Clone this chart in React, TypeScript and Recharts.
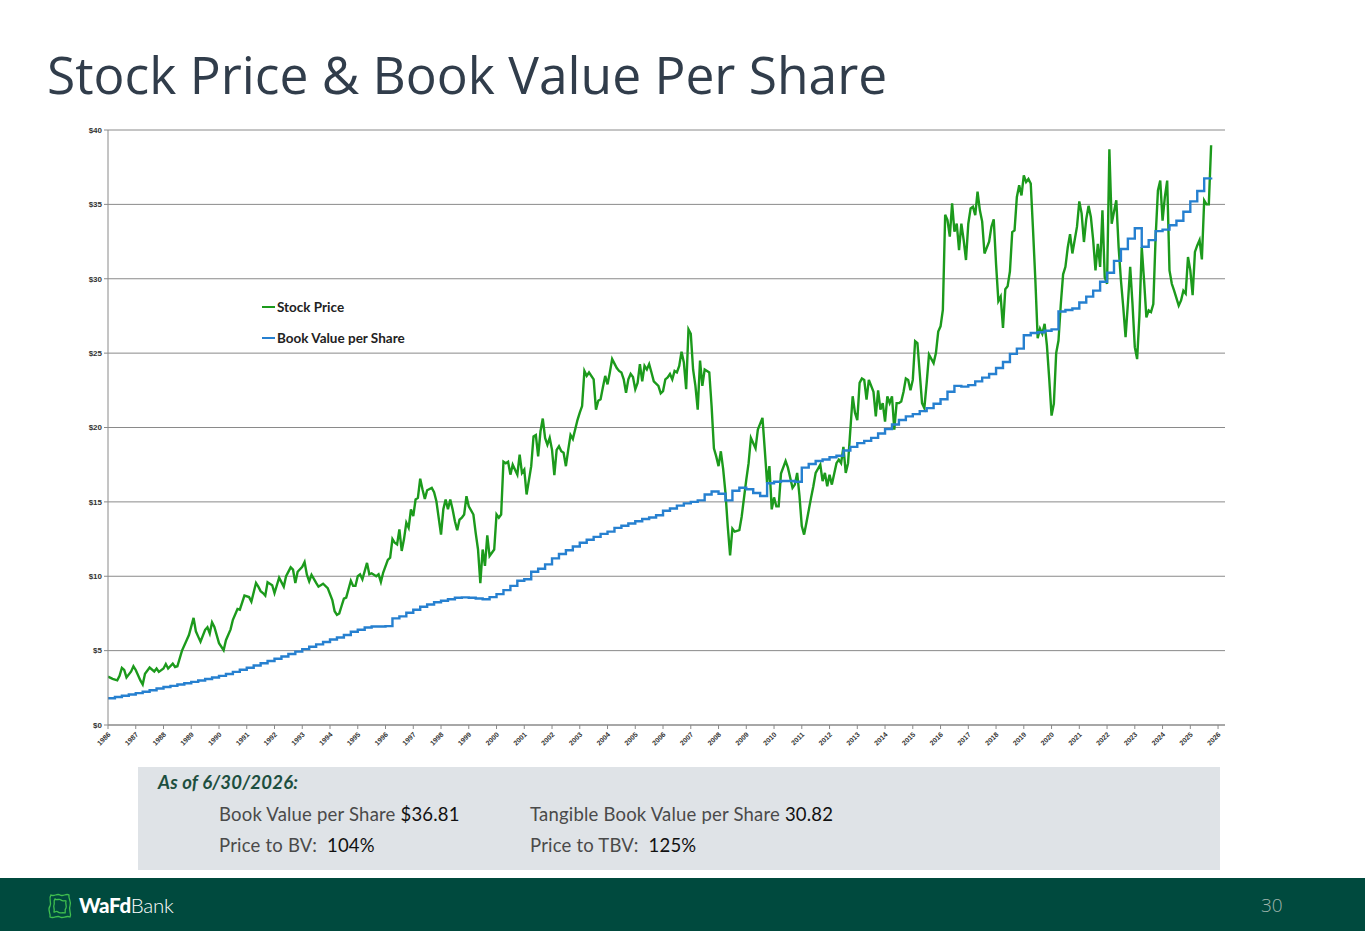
import React from 'react';
import { LineChart, Line, XAxis, YAxis, CartesianGrid } from 'recharts';

// Month index (0 = start of 1986) and month-end stock price
const stockMonth = [
  0, 2, 4, 5, 6, 7, 8, 10, 11, 12, 14, 15, 16, 18, 20, 21, 22, 24, 25, 26, 28, 29, 30, 32, 34, 35, 37, 38, 39, 40,
  42, 43, 44, 45, 46, 48, 50, 51, 53, 54, 56, 57, 59, 61, 62, 64, 65, 66, 67, 68, 69, 71, 72, 74, 76, 77, 79, 80, 81, 82,
  84, 85, 86, 87, 88, 90, 91, 93, 95, 97, 98, 99, 100, 101, 102, 103, 105, 106, 107, 108, 109, 110, 112, 113, 114, 116, 117, 118, 119, 121,
  122, 123, 124, 125, 126, 127, 128, 129, 130, 131, 132, 133, 134, 135, 136, 137, 138, 140, 141, 142, 144, 145, 146, 147, 148, 149, 150, 151, 152, 153,
  154, 155, 156, 158, 159, 160, 161, 162, 163, 164, 165, 167, 168, 169, 170, 171, 172, 173, 174, 175, 177, 178, 179, 180, 181, 183, 184, 185, 186, 187,
  188, 189, 190, 191, 192, 193, 194, 195, 196, 197, 198, 199, 200, 201, 203, 204, 205, 206, 207, 208, 210, 211, 212, 213, 214, 215, 216, 217, 218, 220,
  221, 222, 223, 224, 225, 226, 227, 228, 229, 230, 231, 232, 233, 234, 235, 236, 238, 239, 240, 241, 242, 243, 244, 245, 246, 247, 248, 249, 250, 251,
  252, 253, 254, 255, 256, 257, 258, 260, 261, 262, 263, 264, 265, 266, 267, 268, 269, 270, 271, 273, 274, 276, 277, 278, 280, 281, 283, 284, 285, 286,
  287, 288, 289, 290, 291, 293, 294, 296, 297, 298, 299, 300, 301, 302, 304, 305, 306, 308, 309, 310, 311, 312, 313, 315, 316, 317, 318, 319, 320, 321,
  322, 323, 324, 325, 326, 327, 328, 329, 331, 332, 333, 334, 335, 336, 337, 338, 339, 340, 341, 342, 343, 344, 345, 346, 347, 348, 349, 350, 351, 352,
  353, 354, 355, 357, 358, 359, 360, 361, 362, 363, 364, 365, 366, 367, 368, 369, 370, 371, 372, 373, 374, 375, 376, 377, 378, 379, 381, 382, 383, 384,
  385, 386, 387, 388, 389, 390, 391, 392, 393, 394, 395, 396, 397, 398, 399, 400, 401, 402, 403, 404, 405, 406, 407, 408, 409, 410, 411, 412, 413, 414,
  415, 416, 417, 418, 419, 420, 421, 422, 423, 424, 425, 426, 427, 428, 429, 430, 431, 432, 433, 434, 435, 436, 437, 438, 439, 440, 441, 442, 443, 444,
  445, 446, 447, 448, 449, 450, 451, 452, 453, 454, 455, 456, 457, 458, 459, 460, 461, 463, 464, 465, 466, 467, 468, 469, 470, 471, 472, 473, 474, 475,
  476, 477,
];

const stockPrice = [
  3.25, 3.1, 3.0, 3.3, 3.84, 3.7, 3.2, 3.6, 3.95, 3.7, 3.0, 2.73, 3.45, 3.86, 3.6, 3.8, 3.57, 3.8, 4.1, 3.8, 4.13, 3.9, 3.95, 5.0, 5.7, 6.05, 7.2, 6.3, 5.94, 5.6,
  6.4, 6.57, 6.16, 6.9, 6.6, 5.5, 5.03, 5.7, 6.43, 7.07, 7.8, 7.75, 8.7, 8.6, 8.3, 9.55, 9.3, 9.0, 8.87, 8.7, 9.6, 9.4, 8.87, 9.9, 9.3, 10.0, 10.6, 10.45, 9.55, 10.3,
  10.63, 10.95, 10.1, 9.66, 10.1, 9.55, 9.3, 9.5, 9.2, 8.4, 7.65, 7.4, 7.5, 8.0, 8.5, 8.57, 9.7, 9.35, 9.35, 10.0, 10.13, 9.8, 10.9, 10.13, 10.2, 10.0, 10.13, 9.62, 10.25, 11.1,
  11.25, 12.5, 12.25, 12.14, 13.15, 11.7, 12.5, 13.6, 13.26, 14.5, 14.04, 15.16, 15.27, 16.56, 15.83, 15.2, 15.78, 15.94, 15.65, 15.04, 12.8, 14.5, 15.16, 14.5, 15.16, 14.5, 13.7, 13.1, 13.8, 13.93,
  14.15, 15.38, 14.7, 14.15, 12.9, 11.8, 9.53, 11.8, 10.7, 12.75, 11.36, 11.8, 14.15, 13.93, 14.15, 17.7, 17.6, 17.7, 16.83, 17.5, 16.83, 18.17, 16.94, 17.17, 15.5, 17.4, 19.4, 19.5, 18.06, 19.73,
  20.6, 19.3, 18.84, 19.3, 18.5, 16.8, 18.5, 18.74, 18.4, 18.3, 17.4, 18.5, 19.5, 19.23, 20.5, 21.0, 21.44, 23.8, 23.47, 23.7, 23.24, 21.2, 21.8, 21.9, 22.7, 23.47, 22.9, 23.7, 24.6, 24.0,
  23.8, 23.7, 23.24, 22.34, 23.24, 23.6, 23.4, 22.57, 23.0, 24.26, 23.1, 24.14, 23.9, 24.26, 23.7, 23.1, 22.8, 22.3, 22.45, 23.24, 23.36, 23.6, 23.24, 23.8, 23.7, 24.14, 25.1, 24.37, 22.57, 26.6,
  26.3, 23.9, 22.8, 21.2, 24.5, 22.8, 23.9, 23.7, 21.44, 18.6, 18.06, 17.4, 18.4, 17.2, 15.6, 13.33, 11.4, 13.2, 13.0, 13.1, 14.0, 16.5, 17.6, 19.3, 18.6, 19.86, 20.65, 18.5, 16.26, 17.4,
  14.5, 15.3, 14.7, 14.7, 16.9, 17.75, 17.3, 15.94, 16.16, 16.95, 15.4, 13.37, 12.8, 13.6, 15.27, 16.05, 16.95, 17.5, 16.4, 16.95, 16.05, 16.83, 16.16, 17.6, 17.84, 17.6, 18.7, 16.95, 17.6, 19.85,
  22.1, 21.0, 20.5, 23.0, 23.3, 23.2, 21.87, 23.2, 22.4, 20.75, 22.5, 21.2, 21.64, 20.4, 22.1, 21.64, 22.1, 19.85, 21.64, 21.64, 21.75, 22.4, 23.3, 23.2, 22.5, 23.2, 25.8, 25.67, 23.66, 21.64,
  21.3, 23.0, 24.9, 24.33, 25.0, 26.45, 26.8, 27.9, 34.3, 33.95, 32.83, 35.07, 33.17, 33.7, 31.93, 33.7, 32.6, 31.26, 33.7, 34.73, 34.84, 34.28, 35.85, 34.6, 33.84, 31.7, 32.5, 33.5, 34.0, 31.0,
  28.5, 28.8, 26.7, 29.3, 29.5, 30.5, 33.14, 33.25, 35.5, 36.28, 35.6, 36.95, 36.5, 36.7, 36.4, 33.25, 29.9, 26.0, 26.64, 26.3, 26.97, 25.5, 23.27, 20.8, 21.6, 25.0, 25.85, 28.3, 30.3, 30.8,
  32.1, 33.0, 31.7, 32.6, 33.5, 35.2, 34.4, 32.47, 34.0, 34.9, 34.15, 32.6, 30.56, 32.35, 30.8, 34.6, 30.1, 29.66, 38.7, 33.7, 34.5, 35.27, 32.13, 29.9, 28.1, 26.08, 28.3, 30.8, 28.3, 25.4,
  24.6, 27.5, 32.13, 29.9, 27.4, 27.87, 27.76, 28.3, 32.8, 35.94, 36.6, 33.9, 35.5, 36.6, 30.56, 29.66, 29.2, 28.2, 28.54, 29.2, 29.0, 31.46, 30.56, 28.9, 31.8, 32.24, 32.6, 31.3, 35.27, 35.0,
  35.0, 38.97,
];

// Quarter-end book value per share, one value every 3 months from the start of 1986
const bookValue = [
  1.8, 1.88, 1.97, 2.05, 2.14, 2.24, 2.34, 2.45, 2.55, 2.63, 2.72, 2.81, 2.9, 2.99, 3.09, 3.19, 3.3, 3.43, 3.57, 3.71,
  3.85, 4.0, 4.15, 4.3, 4.45, 4.61, 4.77, 4.93, 5.1, 5.26, 5.42, 5.58, 5.75, 5.88, 6.05, 6.27, 6.4, 6.55, 6.62, 6.62,
  6.65, 7.17, 7.3, 7.55, 7.75, 7.95, 8.1, 8.25, 8.35, 8.45, 8.55, 8.58, 8.55, 8.5, 8.45, 8.6, 8.8, 9.07, 9.35, 9.7,
  9.8, 10.3, 10.5, 10.8, 11.2, 11.5, 11.75, 12.0, 12.25, 12.45, 12.65, 12.85, 13.0, 13.25, 13.4, 13.55, 13.7, 13.85, 13.95, 14.1,
  14.4, 14.55, 14.75, 14.9, 15.0, 15.1, 15.5, 15.7, 15.55, 15.1, 15.75, 15.95, 15.85, 15.6, 15.4, 16.25, 16.35, 16.4, 16.4, 16.35,
  17.3, 17.55, 17.75, 17.85, 18.0, 18.1, 18.45, 18.7, 18.95, 19.1, 19.3, 19.6, 19.9, 20.2, 20.5, 20.75, 20.9, 21.1, 21.3, 21.6,
  21.9, 22.4, 22.8, 22.75, 22.85, 23.1, 23.35, 23.6, 24.0, 24.4, 24.95, 25.3, 26.2, 26.35, 26.4, 26.5, 26.6, 27.8, 27.9, 28.0,
  28.4, 28.8, 29.2, 29.8, 30.4, 31.2, 32.0, 32.7, 33.4, 32.15, 32.6, 33.2, 33.3, 33.6, 33.9, 34.5, 35.2, 35.9, 36.75, 36.81,
];

const yearLabels = [
  '1986', '1987', '1988', '1989', '1990', '1991', '1992', '1993', '1994', '1995', '1996', '1997', '1998', '1999',
  '2000', '2001', '2002', '2003', '2004', '2005', '2006', '2007', '2008', '2009', '2010', '2011', '2012', '2013',
  '2014', '2015', '2016', '2017', '2018', '2019', '2020', '2021', '2022', '2023', '2024', '2025', '2026',
];

const priceTicks = [0, 5, 10, 15, 20, 25, 30, 35, 40];

const seriesNames = ['Stock Price', 'Book Value per Share'];
const seriesColors = ['#1c9a1c', '#2680d0'];

const stockData = stockMonth.map((m, i) => ({ m, price: stockPrice[i] }));
const bookData = bookValue.map((v, i) => ({ m: i * 3, book: v }));
const yearTicks = yearLabels.map((_, i) => i * 12);

const YearTick = (props: any) => {
  const { x, y, payload } = props;
  const label = yearLabels[Math.round(payload.value / 12)];
  const ax = x + 3;
  const ay = y + 4;
  return (
    <text
      x={ax}
      y={ay}
      transform={`rotate(-45 ${ax} ${ay})`}
      textAnchor="end"
      fontSize={7}
      fontWeight="bold"
      fill="#333"
      fontFamily="'Liberation Sans', Arial, sans-serif"
    >
      {label}
    </text>
  );
};

const ChartLegend = () => (
  <div
    style={{
      position: 'absolute',
      left: 262,
      top: 299,
      fontFamily: 'Lato, sans-serif',
      fontWeight: 700,
      fontSize: 13.5,
      color: '#222',
    }}
  >
    {seriesNames.map((name, i) => (
      <div key={name} style={{ display: 'flex', alignItems: 'center', height: 16, marginBottom: i === 0 ? 15 : 0 }}>
        <span style={{ display: 'inline-block', width: 13, height: 2.5, background: seriesColors[i], marginRight: 2 }} />
        <span style={{ whiteSpace: 'nowrap' }}>{name}</span>
      </div>
    ))}
  </div>
);

const Logo = () => (
  <svg width="30" height="30" viewBox="0 0 30 30" style={{ position: 'absolute', left: 45, top: 891 }}>
    <g fill="none" stroke="#3fbf4f" strokeWidth="1.3">
      <path d="M6 4 C9 6, 12 2, 15 4 C18 6, 21 2, 24 4 C23 8, 27 11, 25 15 C23 19, 27 22, 25 26 C21 24, 18 28, 15 26 C12 24, 9 28, 5 26 C6 22, 2 19, 5 15 C7 11, 3 8, 6 4 Z" />
      <path d="M10 8 C12 10, 14 7, 16 9 C18 11, 20 9, 21 10 C20 13, 22 15, 21 17 C19 19, 21 21, 20 22 C17 21, 15 23, 13 21 C11 19, 10 22, 9 21 C10 18, 8 16, 9 14 C10 12, 8 10, 10 8 Z" />
    </g>
  </svg>
);

export default function App() {
  const labelStyle: React.CSSProperties = { color: '#4a4a4a' };
  const valueStyle: React.CSSProperties = { color: '#111' };
  return (
    <div
      style={{
        position: 'absolute',
        left: 0,
        top: 0,
        width: 1365,
        height: 931,
        background: '#ffffff',
        overflow: 'hidden',
        fontFamily: "'Open Sans', sans-serif",
      }}
    >
      <div
        style={{
          position: 'absolute',
          left: 47,
          top: 38,
          fontSize: 51.5,
          color: '#313d4b',
          fontFamily: "'Open Sans', sans-serif",
          lineHeight: '72px',
          whiteSpace: 'nowrap',
        }}
      >
        Stock Price &amp; Book Value Per Share
      </div>

      <div style={{ position: 'absolute', left: 40, top: 110 }}>
        <LineChart
          width={1200}
          height={650}
          margin={{ top: 20, right: 15, bottom: 0, left: 0 }}
          style={{ fontFamily: "'Liberation Sans', Arial, sans-serif" }}
        >
          <CartesianGrid vertical={false} stroke="#8a8a8a" strokeWidth={1} />
          <XAxis
            type="number"
            dataKey="m"
            domain={[0, 483]}
            ticks={yearTicks}
            interval={0}
            tick={<YearTick />}
            tickSize={4}
            height={35}
            stroke="#8a8a8a"
            allowDataOverflow
          />
          <YAxis
            type="number"
            domain={[0, 40]}
            ticks={priceTicks}
            interval={0}
            tickFormatter={(v: number) => `$${v}`}
            width={68}
            tickSize={4}
            stroke="#8a8a8a"
            tick={{ fontSize: 8, fontWeight: 'bold', fill: '#333' }}
          />
          <Line
            data={stockData}
            dataKey="price"
            name={seriesNames[0]}
            type="linear"
            stroke={seriesColors[0]}
            strokeWidth={2.4}
            dot={false}
            isAnimationActive={false}
          />
          <Line
            data={bookData}
            dataKey="book"
            name={seriesNames[1]}
            type="stepAfter"
            stroke={seriesColors[1]}
            strokeWidth={2.4}
            dot={false}
            isAnimationActive={false}
          />
        </LineChart>
      </div>

      <ChartLegend />

      <div
        style={{
          position: 'absolute',
          left: 138,
          top: 767,
          width: 1082,
          height: 103,
          background: '#dfe3e7',
          fontFamily: 'Lato, sans-serif',
          fontSize: 18.5,
          letterSpacing: 0.2,
        }}
      >
        <div
          style={{
            position: 'absolute',
            left: 20,
            top: 4,
            fontWeight: 700,
            fontStyle: 'italic',
            color: '#1d4f3f',
          }}
        >
          As of 6/30/2026:
        </div>
        <div style={{ position: 'absolute', left: 81, top: 36, whiteSpace: 'nowrap' }}>
          <span style={labelStyle}>Book Value per Share </span>
          <span style={valueStyle}>$36.81</span>
        </div>
        <div style={{ position: 'absolute', left: 392, top: 36, whiteSpace: 'nowrap' }}>
          <span style={labelStyle}>Tangible Book Value per Share </span>
          <span style={valueStyle}>30.82</span>
        </div>
        <div style={{ position: 'absolute', left: 81, top: 67, whiteSpace: 'pre' }}>
          <span style={labelStyle}>Price to BV:  </span>
          <span style={valueStyle}>104%</span>
        </div>
        <div style={{ position: 'absolute', left: 392, top: 67, whiteSpace: 'pre' }}>
          <span style={labelStyle}>Price to TBV:  </span>
          <span style={valueStyle}>125%</span>
        </div>
      </div>

      <div style={{ position: 'absolute', left: 0, top: 878, width: 1365, height: 53, background: '#004a3e' }} />
      <Logo />
      <div
        style={{
          position: 'absolute',
          left: 79,
          top: 893,
          fontFamily: 'Lato, sans-serif',
          fontSize: 20.5,
          color: '#ffffff',
          whiteSpace: 'nowrap',
          letterSpacing: -0.3,
        }}
      >
        <span style={{ fontWeight: 900 }}>WaFd</span>
        <span style={{ fontWeight: 300 }}>Bank</span>
      </div>
      <div
        style={{
          position: 'absolute',
          left: 1261,
          top: 892,
          fontFamily: "'Open Sans', sans-serif",
          fontWeight: 300,
          fontSize: 19,
          color: '#9fb5ad',
        }}
      >
        30
      </div>
    </div>
  );
}
